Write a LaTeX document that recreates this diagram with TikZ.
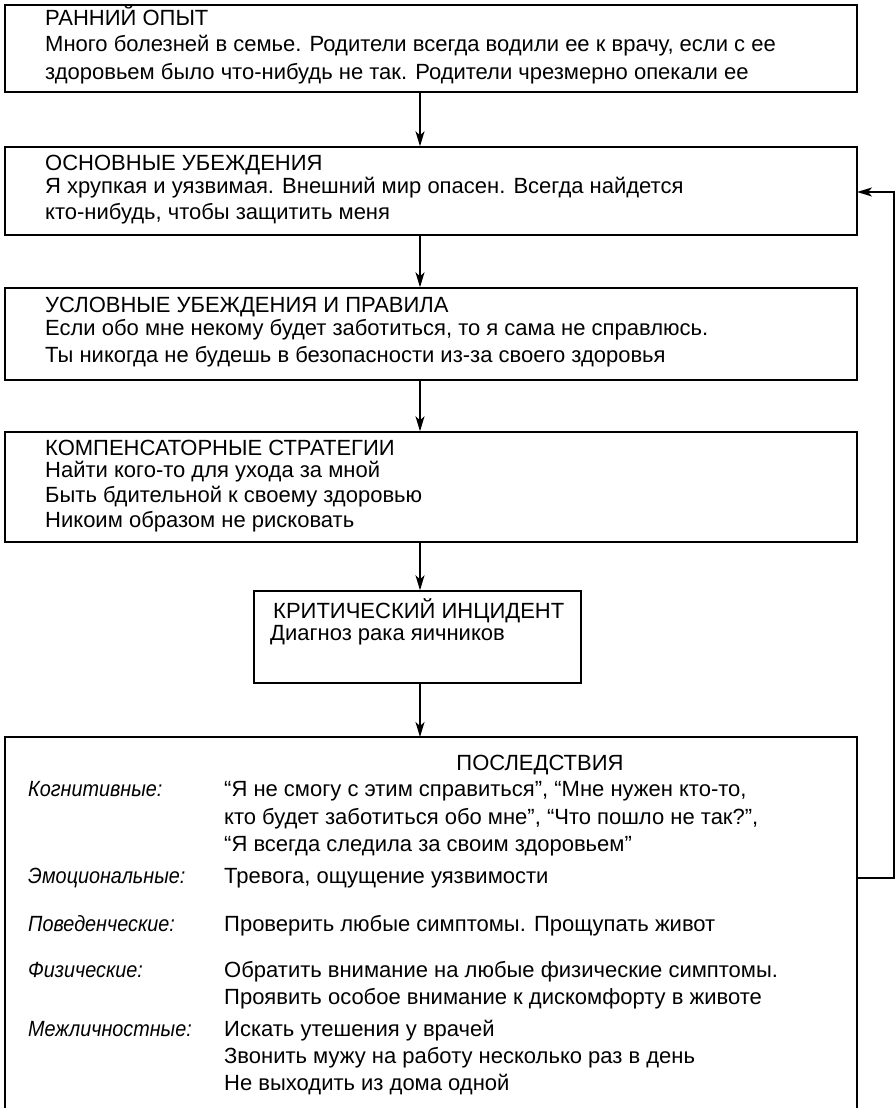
\documentclass[tikz,border=0pt]{standalone}
\usepackage{fontspec}
\setmainfont{Liberation Sans}
\newfontfamily\labfont{Liberation Sans}[FakeStretch=0.9]
\usetikzlibrary{arrows.meta,calc}
\begin{document}
\begin{tikzpicture}[x=1pt,y=-1pt,
  box/.style={draw=black,line width=1.4pt,inner sep=0pt},
  txt/.style={anchor=base west,inner sep=0pt,font=\fontsize{22}{26}\selectfont},
  lab/.style={txt,font=\labfont\fontsize{22}{26}\selectfont\itshape},
  arr/.style={line width=1.4pt,-{Stealth[length=15pt,width=9pt,inset=4pt]}},
  fb/.style={line width=2pt}]
\useasboundingbox (0,0) rectangle (896,1108);
\fill[white] (0,0) rectangle (896,1108);
\coordinate (ax) at (420,0);
% boxes
\node[box,minimum width=852pt,minimum height=87pt] (b1) at (431,48.5) {};
\node[box,minimum width=852pt,minimum height=88pt] (b2) at (431,191) {};
\node[box,minimum width=852pt,minimum height=92pt] (b3) at (431,334) {};
\node[box,minimum width=852pt,minimum height=110pt] (b4) at (431,487) {};
\node[box,minimum width=327pt,minimum height=92pt] (b5) at (417.5,637) {};
\draw[line width=1.4pt] (5,1120) -- (5,737) coordinate (b6nw) -- (857,737) coordinate (b6ne) -- (857,1120);
\coordinate (b6n) at (420,737);
% texts box 1
\node[txt] (t11) at (45,26) {РАННИЙ ОПЫТ};
\node[txt] (t12) at (45,52) {Много болезней в семье. Родители всегда водили ее к врачу, если с ее};
\node[txt] (t13) at (45,79) {здоровьем было что-нибудь не так. Родители чрезмерно опекали ее};
% box 2
\node[txt] (t21) at (45,170) {ОСНОВНЫЕ УБЕЖДЕНИЯ};
\node[txt] (t22) at (45,193) {Я хрупкая и уязвимая. Внешний мир опасен. Всегда найдется};
\node[txt] (t23) at (45,219) {кто-нибудь, чтобы защитить меня};
% box 3
\node[txt] (t31) at (45,312) {УСЛОВНЫЕ УБЕЖДЕНИЯ И ПРАВИЛА};
\node[txt] (t32) at (45,335) {Если обо мне некому будет заботиться, то я сама не справлюсь.};
\node[txt] (t33) at (45,362) {Ты никогда не будешь в безопасности из-за своего здоровья};
% box 4
\node[txt] (t41) at (45,455) {КОМПЕНСАТОРНЫЕ СТРАТЕГИИ};
\node[txt] (t42) at (45,477) {Найти кого-то для ухода за мной};
\node[txt] (t43) at (45,502) {Быть бдительной к своему здоровью};
\node[txt] (t44) at (45,527) {Никоим образом не рисковать};
% box 5
\node[txt] (t51) at (273,618) {КРИТИЧЕСКИЙ ИНЦИДЕНТ};
\node[txt] (t52) at (270,640) {Диагноз рака яичников};
% box 6
\node[txt,anchor=base] (t60) at (540,770) {ПОСЛЕДСТВИЯ};
\node[lab] (l1) at (28,796) {Когнитивные:};
\node[txt] (c1) at (224,796) {“Я не смогу с этим справиться”, “Мне нужен кто-то,};
\node[txt] (c2) at (224,824) {кто будет заботиться обо мне”, “Что пошло не так?”,};
\node[txt] (c3) at (224,851) {“Я всегда следила за своим здоровьем”};
\node[lab] (l2) at (28,883) {Эмоциональные:};
\node[txt] (e1) at (224,883) {Тревога, ощущение уязвимости};
\node[lab] (l3) at (28,931) {Поведенческие:};
\node[txt] (p1) at (224,931) {Проверить любые симптомы. Прощупать живот};
\node[lab] (l4) at (28,977) {Физические:};
\node[txt] (f1) at (224,977) {Обратить внимание на любые физические симптомы.};
\node[txt] (f2) at (224,1004) {Проявить особое внимание к дискомфорту в животе};
\node[lab] (l5) at (28,1036) {Межличностные:};
\node[txt] (m1) at (224,1036) {Искать утешения у врачей};
\node[txt] (m2) at (224,1063) {Звонить мужу на работу несколько раз в день};
\node[txt] (m3) at (224,1090) {Не выходить из дома одной};
% arrows
\draw[arr] (b1.south -| ax) -- (b2.north -| ax);
\draw[arr] (b2.south -| ax) -- (b3.north -| ax);
\draw[arr] (b3.south -| ax) -- (b4.north -| ax);
\draw[arr] (b4.south -| ax) -- (b5.north -| ax);
\draw[arr] (b5.south -| ax) -- (b6n);
% feedback
\coordinate (fbs) at (857,878);
\coordinate (fbe) at (857,192);
\draw[fb] (fbs) -- (894,878) -- (894,192) -- ++(-10,0);
\draw[arr,line width=2pt] (884,192) -- (fbe);
\end{tikzpicture}
\end{document}
